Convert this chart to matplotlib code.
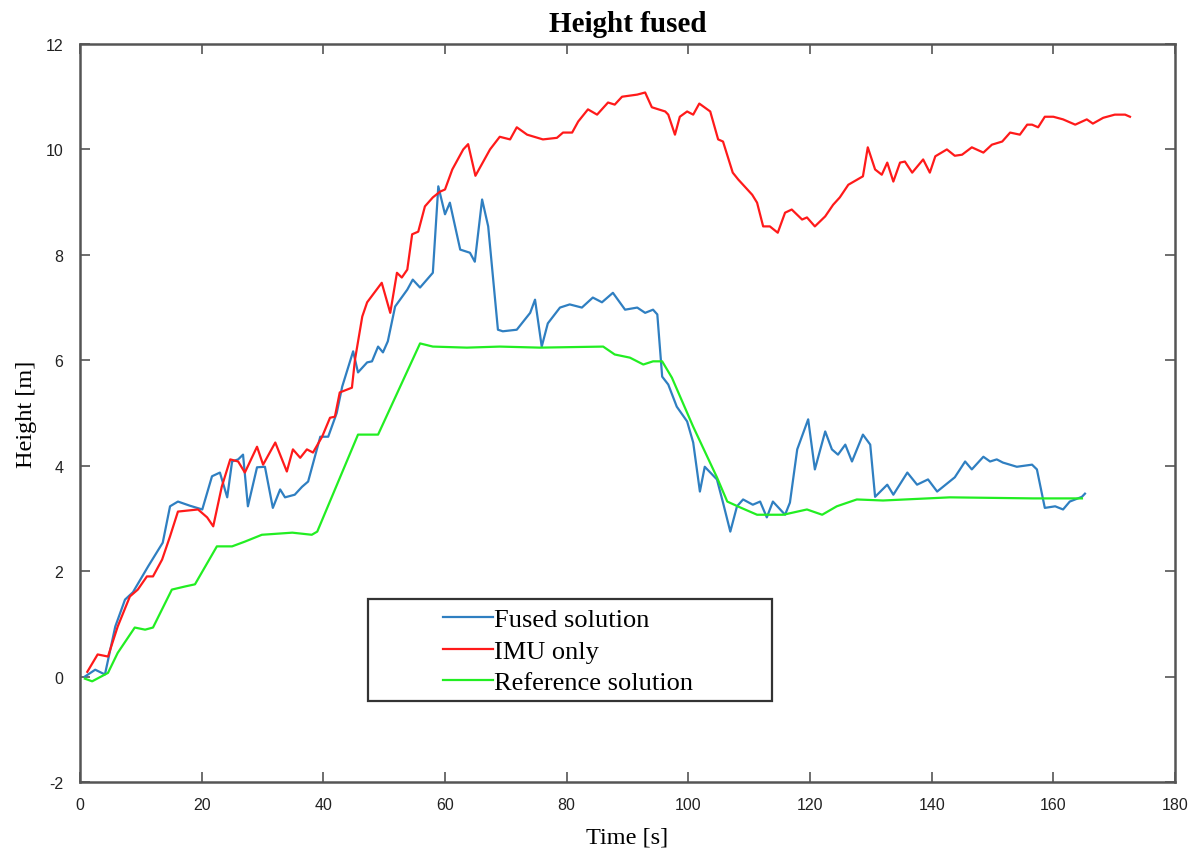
import matplotlib
matplotlib.use("Agg")
import matplotlib.pyplot as plt
from matplotlib.patches import Rectangle
from matplotlib.lines import Line2D

fused_pts = [(0.8,0),(2.5,0.13),(4.1,0.04),(5.8,0.95),(7.4,1.46),(8.7,1.6),(11.2,2.09),(13.6,2.54),
             (14.8,3.23),(16.1,3.32),(18.1,3.24),(20.1,3.17),(21.7,3.8),(23.0,3.87),(24.2,3.4),(25.0,4.08),
             (26.0,4.12),(26.8,4.21),(27.6,3.23),(29.1,3.97),(30.4,3.98),(31.7,3.2),(32.9,3.55),(33.7,3.4),
             (35.3,3.45),(36.5,3.6),(37.5,3.7),(39.5,4.55),(40.8,4.55),(42.2,5.0),(43.1,5.5),(44.9,6.17),
             (45.7,5.77),(47.2,5.96),(48.0,5.98),(49.0,6.26),(49.8,6.15),(50.6,6.36),(51.8,7.02),(53.8,7.34),
             (54.7,7.53),(55.9,7.38),(58.0,7.66),(58.9,9.3),(60.0,8.77),(60.8,8.99),(62.5,8.1),(64.1,8.04),
             (64.9,7.87),(66.1,9.05),(67.1,8.54),(68.7,6.58),(69.5,6.55),(71.8,6.58),(74.0,6.9),(74.8,7.15),
             (75.9,6.26),(76.9,6.7),(78.9,7.0),(80.5,7.06),(82.5,7.0),(84.3,7.19),(85.8,7.1),(87.6,7.28),
             (89.6,6.96),(91.6,7.0),(92.9,6.9),(94.2,6.96),(94.9,6.87),(95.7,5.69),(96.7,5.54),(98.1,5.12),
             (99.8,4.84),(100.8,4.44),(101.9,3.51),(102.7,3.98),(104.7,3.74),(105.7,3.3),(106.9,2.75),
             (108.0,3.23),(109.0,3.36),(110.6,3.26),(111.8,3.32),(112.9,3.02),(113.9,3.32),(115.9,3.07),
             (116.7,3.3),(117.9,4.31),(119.7,4.88),(120.8,3.93),(122.5,4.65),(123.6,4.31),(124.6,4.21),
             (125.8,4.4),(126.9,4.08),(128.7,4.59),(129.9,4.4),(130.7,3.41),(132.7,3.64),(133.7,3.45),
             (136.0,3.87),(137.6,3.64),(139.4,3.74),(140.9,3.51),(143.8,3.78),(145.5,4.08),(146.6,3.93),
             (148.5,4.17),(149.6,4.08),(150.7,4.12),(151.7,4.06),(154.0,3.98),(156.5,4.02),(157.3,3.93),
             (158.6,3.2),(160.3,3.23),(161.6,3.17),(162.7,3.32),(164.7,3.41),(165.2,3.47)]

imu_pts = [(1.2,0.09),(2.9,0.42),(4.6,0.38),(6.2,0.95),(8.2,1.52),(9.5,1.65),(11.0,1.9),(12.0,1.9),
           (13.5,2.22),(14.8,2.66),(16.1,3.13),(19.4,3.17),(20.9,3.02),(21.9,2.85),(23.3,3.6),(24.7,4.12),
           (26.0,4.08),(27.1,3.87),(29.1,4.36),(30.1,4.02),(32.1,4.44),(34.0,3.89),(35.0,4.31),(36.2,4.15),
           (37.3,4.31),(38.3,4.25),(39.8,4.55),(41.1,4.91),(41.9,4.93),(42.7,5.39),(44.7,5.48),(45.2,6.01),
           (46.4,6.83),(47.2,7.1),(49.6,7.47),(51.0,6.9),(52.1,7.66),(52.9,7.57),(53.8,7.72),(54.6,8.39),
           (55.6,8.44),(56.7,8.92),(58.0,9.09),(59.2,9.2),(60.0,9.24),(61.2,9.62),(63.0,10.0),(63.8,10.1),
           (65.0,9.5),(67.4,10.0),(69.0,10.24),(70.7,10.19),(71.8,10.42),(73.5,10.28),(76.1,10.19),
           (78.4,10.22),(79.4,10.32),(80.9,10.32),(81.9,10.53),(83.5,10.76),(85.0,10.66),(86.8,10.89),
           (87.9,10.85),(89.1,11.0),(91.6,11.04),(92.9,11.08),(94.0,10.8),(96.2,10.72),(96.7,10.66),
           (97.8,10.28),(98.6,10.62),(99.8,10.72),(100.8,10.66),(101.8,10.87),(103.6,10.72),(104.9,10.19),
           (105.7,10.15),(107.3,9.56),(108.2,9.43),(110.5,9.14),(111.3,8.99),(112.3,8.54),(113.4,8.54),
           (114.7,8.42),(115.9,8.8),(117.0,8.86),(118.7,8.67),(119.5,8.71),(120.8,8.54),(122.5,8.73),
           (123.8,8.95),(124.9,9.09),(126.3,9.33),(128.7,9.49),(129.5,10.04),(130.7,9.62),(131.8,9.52),
           (132.7,9.75),(133.7,9.39),(134.8,9.75),(135.6,9.77),(136.8,9.56),(138.6,9.81),(139.7,9.56),
           (140.6,9.87),(142.5,10.0),(143.8,9.88),(145.0,9.9),(146.6,10.04),(148.5,9.94),(149.9,10.09),
           (151.6,10.15),(152.9,10.32),(154.5,10.28),(155.7,10.47),(156.5,10.47),(157.5,10.42),
           (158.6,10.62),(160.0,10.62),(161.6,10.57),(163.6,10.47),(165.5,10.57),(166.5,10.49),
           (168.2,10.6),(170.1,10.66),(171.8,10.66),(172.6,10.62)]

ref_pts = [(0.8,-0.04),(2.0,-0.09),(4.6,0.07),(6.2,0.45),(9.0,0.93),(10.7,0.89),(12.0,0.93),
           (15.1,1.65),(17.3,1.71),(18.9,1.75),(22.5,2.47),(25.0,2.47),(27.1,2.56),(29.9,2.69),
           (34.9,2.73),(38.1,2.69),(39.0,2.75),(45.7,4.59),(49.0,4.59),(55.9,6.32),(58.0,6.26),
           (63.6,6.24),(69.0,6.26),(75.6,6.24),(86.0,6.26),(87.9,6.11),(90.4,6.05),(92.6,5.92),
           (94.2,5.98),(95.7,5.98),(97.3,5.67),(100.8,4.74),(104.7,3.78),(106.4,3.32),(108.5,3.21),
           (111.3,3.07),(115.6,3.07),(119.5,3.17),(122.0,3.07),(124.4,3.23),(127.7,3.36),(132.0,3.34),
           (143.0,3.4),(156.7,3.38),(164.7,3.38)]

series_labels = ["Fused solution", "IMU only", "Reference solution"]
x_ticks = [0, 20, 40, 60, 80, 100, 120, 140, 160, 180]
y_ticks = [-2, 0, 2, 4, 6, 8, 10, 12]

colors = ["#2f7fc1", "#ff1a1a", "#22ee22"]

fig = plt.figure(figsize=(11.99, 8.54), dpi=100)
ax = fig.add_axes([80/1199, 71/854, 1095/1199, 738/854])

for pts, c, lab in zip([fused_pts, imu_pts, ref_pts], colors, series_labels):
    t, h = zip(*pts)
    ax.plot(t, h, color=c, lw=1.6, label=lab)

ax.set_xlim(0, 180)
ax.set_ylim(-2, 12)
ax.set_xticks(x_ticks)
ax.set_yticks(y_ticks)
tickfont = {"family": ["Liberation Sans", "DejaVu Sans"], "size": 11.5}
ax.set_xticklabels([str(v) for v in x_ticks], fontdict=tickfont)
ax.set_yticklabels([str(v) for v in y_ticks], fontdict=tickfont)
ax.tick_params(direction="in", top=True, right=True, length=7, width=1.2, color="#555555",
               labelcolor="#222222")
ax.tick_params(axis="x", pad=11)
ax.tick_params(axis="y", pad=12)
for s in ax.spines.values():
    s.set_color("#555555")
    s.set_linewidth(1.8)

serif = ["Liberation Serif", "DejaVu Serif"]
ax.set_title("Height fused", fontfamily=serif, fontweight="bold", fontsize=21, pad=9)
ax.set_xlabel("Time [s]", fontfamily=serif, fontsize=17.5, labelpad=10)
ax.set_ylabel("Height [m]", fontfamily=serif, fontsize=17.5, labelpad=6)

# legend box
lx0, lx1 = (368-80)/1095, (772-80)/1095
ly0, ly1 = (783-702)/738, (783-600)/738
ax.add_patch(Rectangle((lx0, ly0), lx1-lx0, ly1-ly0, transform=ax.transAxes,
                       facecolor="white", edgecolor="#333333", lw=1.6, zorder=5))
handles = [Line2D([], [], color=c, lw=1.6) for c in colors]
leg = ax.legend(handles, series_labels, loc="upper left",
                bbox_to_anchor=((443-80)/1095, (783-609)/738), frameon=False,
                prop={"family": serif, "size": 19}, handlelength=1.9, handletextpad=0.05,
                labelspacing=0.3, borderpad=0, borderaxespad=0)
leg.set_zorder(6)

fig.savefig("out.png", dpi=100)
